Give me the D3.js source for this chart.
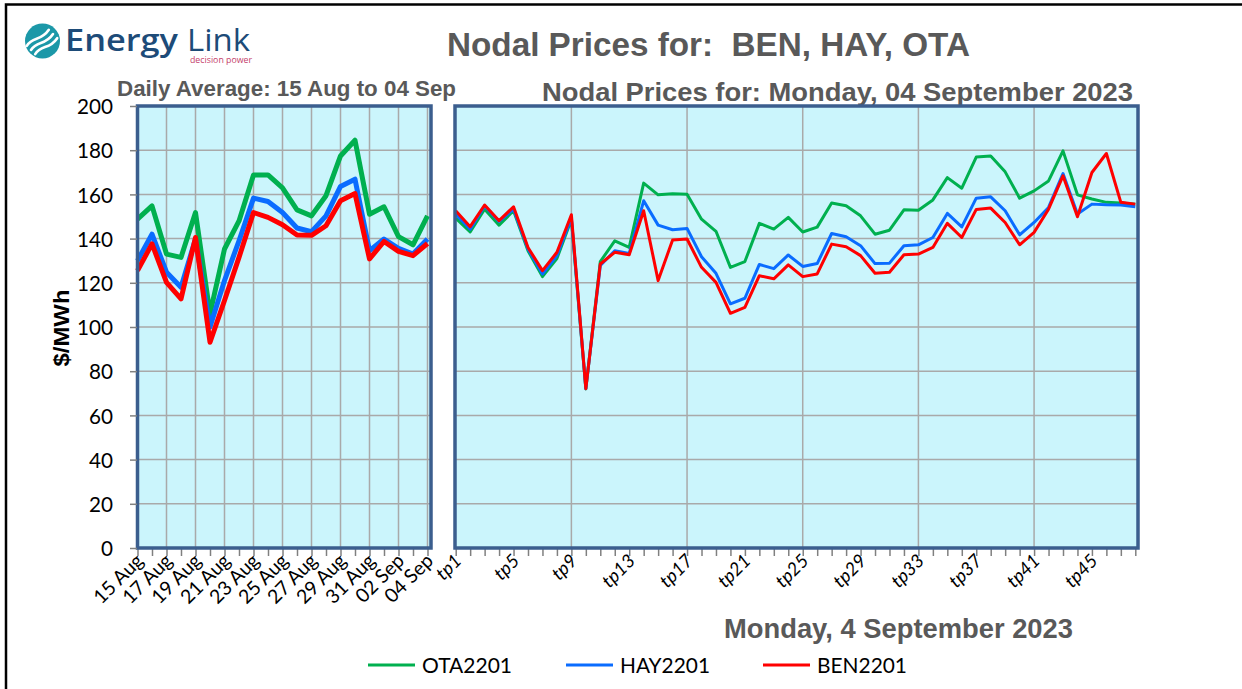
<!DOCTYPE html>
<html><head><meta charset="utf-8">
<script src="https://cdn.jsdelivr.net/npm/d3@7"></script>
<style>body{margin:0;background:#fff}svg{display:block}</style>
</head><body>
<svg id="c" width="1242" height="689"></svg>
<script>
const dates = ["15 Aug","16 Aug","17 Aug","18 Aug","19 Aug","20 Aug","21 Aug","22 Aug","23 Aug","24 Aug","25 Aug","26 Aug","27 Aug","28 Aug","29 Aug","30 Aug","31 Aug","01 Sep","02 Sep","03 Sep","04 Sep"];
const otaDaily = [148.8,154.8,133,131.5,151.8,106,135.3,148,168.8,168.8,163,153,150.3,159.4,177.4,184.5,151,154.4,140.9,137.2,150.3];
const hayDaily = [130,142,124.8,118,139.8,100,121,139,158.3,156.8,151.8,144.8,143.1,150.3,163.6,166.9,134.5,139.8,135.6,133,139.8];
const benDaily = [125.5,137.6,120.2,112.7,140.5,93.1,112,131.5,151.8,149.6,146.3,141.6,141.5,145.8,157.1,160.4,130.8,138.7,134.2,132.3,137.8];

const periods = d3.range(1,49).map(i => "tp"+i);
const otaTP = [149.3,143,153.3,146.1,152.6,134.5,122.8,131,148.6,72,129.6,139,136,165.1,159.8,160.3,160.1,148.8,143.3,127,129.6,146.9,144.3,149.6,143,145.2,156.1,154.9,150.3,142,143.8,153,152.8,157.5,167.6,162.8,176.9,177.4,170.2,158.3,161.6,166.1,179.7,159.8,157.9,156.4,156.1,155.6];
const hayTP = [151,144.3,154.8,147.8,153.3,135.3,124,132.3,149.3,72.1,127.8,134.5,133.3,157.1,146.1,144,144.6,131.8,124.3,110.5,113,128.3,126.4,132.6,127.4,128.7,142.3,140.8,136.8,128.7,128.9,136.8,137.2,140.5,151.4,145.3,158.3,158.9,152.6,141.7,147.3,154.1,169.4,151.1,155.6,155.3,155.2,154.4];
const benTP = [152.6,145.4,155.2,148.1,154.4,136,125.5,133.8,150.8,72.1,128.5,133.8,132.7,152.6,121,139.4,139.8,127,120.2,106.2,108.9,123.2,121.8,128.1,122.8,124,137.5,136.3,132.3,124.3,124.8,132.7,133,136,146.9,140.5,153.2,153.8,147.3,137.2,142.8,153.3,168.4,149.9,169.9,178.5,156.4,155.6];

const yTicks = [0,20,40,60,80,100,120,140,160,180,200];
const seriesNames = ["OTA2201","HAY2201","BEN2201"];
const colors = ["#00b04f","#0a6cff","#ff0000"];

const svg = d3.select("#c");
const grey = "#595959";
const panelFill = "#cbf5fc", panelStroke = "#3b5e8e", gridC = "#a9a9a9";

// frame
svg.append("path").attr("d","M6,689V4.5H1242").attr("fill","none").attr("stroke","#000").attr("stroke-width",2.5);

// logo
const logo = svg.append("g");
logo.append("circle").attr("cx",42.5).attr("cy",41).attr("r",17.5).attr("fill","#1c98a8");
[-6,0,6].forEach(o=>{
  const dx = o*0.7, dy = o*0.7;
  logo.append("path")
    .attr("d",`M${31+dx},${50+dy} C${37+dx},${40+dy} ${45+dx},${46+dy} ${53+dx},${34+dy}`)
    .attr("fill","none").attr("stroke","#fff").attr("stroke-width",2.6).attr("stroke-linecap","round");
});
const lgf = "Open Sans, sans-serif";
logo.append("text").attr("x",65).attr("y",51).attr("font-family",lgf).attr("font-size",31).attr("font-weight",600).attr("fill","#1d4b78")
  .attr("textLength",113).attr("lengthAdjust","spacingAndGlyphs").text("Energy");
logo.append("text").attr("x",187).attr("y",51).attr("font-family",lgf).attr("font-size",31).attr("font-weight",400).attr("fill","#1d4b78")
  .attr("textLength",63).attr("lengthAdjust","spacingAndGlyphs").text("Link");
logo.append("text").attr("x",190).attr("y",63).attr("font-family",lgf).attr("font-size",9.5).attr("fill","#c4406a")
  .attr("textLength",62).attr("lengthAdjust","spacingAndGlyphs").text("decision power");

// titles
const tf = "Liberation Sans, Arial, sans-serif";
function title(x, yb, size, len, txt){
  svg.append("text").attr("x",x).attr("y",yb).attr("font-family",tf).attr("font-weight","bold").attr("font-size",size)
    .attr("fill",grey).attr("xml:space","preserve").attr("textLength",len).attr("lengthAdjust","spacingAndGlyphs").text(txt);
}
title(447,56,32.5,523,"Nodal Prices for:  BEN, HAY, OTA");
title(117,96,22,339,"Daily Average: 15 Aug to 04 Sep");
title(542,101,26.5,591,"Nodal Prices for: Monday, 04 September 2023");
title(724,638,27,349,"Monday, 4 September 2023");

const lf = "Lato, Carlito, Calibri, sans-serif";
svg.append("text").attr("transform","translate(69,328) rotate(-90)").attr("text-anchor","middle").attr("font-family",tf)
  .attr("font-weight","bold").attr("font-size",22).attr("fill","#000").attr("textLength",77).attr("lengthAdjust","spacingAndGlyphs").text("$/MWh");

const y = d3.scaleLinear().domain([0,200]).range([548,106]);

function panel(x0, x1, cats, xs, gridEvery, labelEvery, italic, data, lw){
  const g = svg.append("g");
  g.append("rect").attr("x",x0).attr("y",106).attr("width",x1-x0).attr("height",442).attr("fill",panelFill);
  g.selectAll(".hg").data(yTicks.slice(1)).join("line")
    .attr("x1",x0).attr("x2",x1).attr("y1",d=>y(d)).attr("y2",d=>y(d)).attr("stroke",gridC).attr("stroke-width",1.5);
  g.selectAll(".vg").data(cats.filter((c,i)=>i%gridEvery===0 && i>0)).join("line")
    .attr("x1",d=>xs(d)).attr("x2",d=>xs(d)).attr("y1",106).attr("y2",548).attr("stroke",gridC).attr("stroke-width",1.5);
  const ax = d3.axisBottom(xs).tickValues(cats).tickSize(7).tickFormat("");
  const axg = g.append("g").attr("transform","translate(0,549)").call(ax);
  axg.select(".domain").remove();
  axg.selectAll("line").attr("stroke","#808080").attr("stroke-width",1.5);
  g.selectAll(".xl").data(cats.filter((c,i)=>i%labelEvery===0)).join("text")
    .attr("transform",d=>`translate(${xs(d)+7},${562}) rotate(-45)`)
    .attr("text-anchor","end").attr("font-family",lf).attr("font-size",italic?18.5:19.5)
    .attr("font-style",italic?"italic":"normal").attr("fill","#000").text(d=>d);
  const line = d3.line().x((d,i)=>xs(cats[i])).y(d=>y(d));
  data.forEach((s,k)=>{
    g.append("path").datum(s).attr("d",line).attr("fill","none").attr("stroke",colors[k])
      .attr("stroke-width",lw).attr("stroke-linejoin","round");
  });
  g.append("rect").attr("x",x0).attr("y",106).attr("width",x1-x0).attr("height",442).attr("fill","none")
    .attr("stroke",panelStroke).attr("stroke-width",3.5);
}

const xL = d3.scalePoint().domain(dates).range([137.5,427.5]);
const xR = d3.scalePoint().domain(periods).range([455.7,1135.3]);
panel(137.5,431,dates,xL,2,2,false,[otaDaily,hayDaily,benDaily],5);
panel(455,1138,periods,xR,8,4,true,[otaTP,hayTP,benTP],3);

// y axis
const ay = d3.axisLeft(y).tickValues(yTicks).tickSize(7).tickPadding(17);
const ayg = svg.append("g").attr("transform","translate(137,0)").call(ay);
ayg.select(".domain").remove();
ayg.selectAll("line").attr("stroke","#808080").attr("stroke-width",1.5);
ayg.selectAll("text").attr("font-family",lf).attr("font-size",21.5).attr("fill","#000").attr("dy","0.36em")
  .attr("textLength",d=>String(d).length*12).attr("lengthAdjust","spacingAndGlyphs");

// legend
const legX = [368,566,763];
const lg = svg.append("g");
seriesNames.forEach((n,k)=>{
  lg.append("line").attr("x1",legX[k]).attr("x2",legX[k]+47).attr("y1",665).attr("y2",665).attr("stroke",colors[k]).attr("stroke-width",3);
  lg.append("text").attr("x",legX[k]+54).attr("y",672.5).attr("font-family",lf).attr("font-size",21).attr("fill","#000")
    .attr("textLength",90).attr("lengthAdjust","spacingAndGlyphs").text(n);
});
</script>
</body></html>
